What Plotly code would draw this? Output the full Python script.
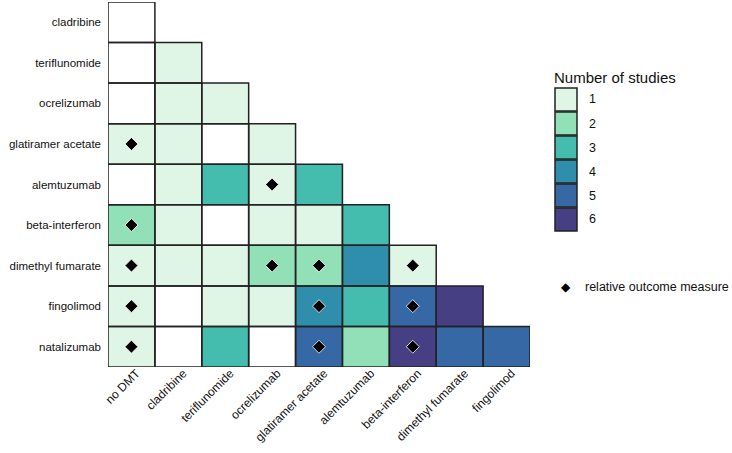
import plotly.graph_objects as go

row_labels = ["cladribine", "teriflunomide", "ocrelizumab", "glatiramer acetate", "alemtuzumab",
              "beta-interferon", "dimethyl fumarate", "fingolimod", "natalizumab"]
col_labels = ["no DMT", "cladribine", "teriflunomide", "ocrelizumab", "glatiramer acetate",
              "alemtuzumab", "beta-interferon", "dimethyl fumarate", "fingolimod"]

# number of studies per comparison (lower triangle)
studies = [
    [0],
    [0, 1],
    [0, 1, 1],
    [1, 1, 0, 1],
    [0, 1, 3, 1, 3],
    [2, 1, 0, 1, 1, 3],
    [1, 1, 1, 2, 2, 4, 1],
    [1, 0, 1, 1, 4, 3, 5, 6],
    [1, 0, 3, 0, 5, 2, 6, 5, 5],
]
# relative outcome measure markers (1 = present)
relative = [
    [0],
    [0, 0],
    [0, 0, 0],
    [1, 0, 0, 0],
    [0, 0, 0, 1, 0],
    [1, 0, 0, 0, 0, 0],
    [1, 0, 0, 1, 1, 0, 1],
    [1, 0, 0, 0, 1, 0, 1, 0],
    [1, 0, 0, 0, 1, 0, 1, 0, 0],
]

palette = ["#ffffff", "#dff5e5", "#92e0b8", "#45bdae", "#2f8eab", "#3568a4", "#473f84"]
legend_levels = [1, 2, 3, 4, 5, 6]

n = len(row_labels)
z = [[(studies[i][j] if j < len(studies[i]) else None) for j in range(n)] for i in range(n)]

k = len(palette)
colorscale = []
for idx, c in enumerate(palette):
    colorscale.append([idx / k, c])
    colorscale.append([(idx + 1) / k, c])

fig = go.Figure()
fig.add_trace(go.Heatmap(
    z=z, x=list(range(n)), y=list(range(n)),
    colorscale=colorscale, zmin=-0.5, zmax=k - 0.5,
    showscale=False, hoverongaps=False,
))

# cell borders
for i, row in enumerate(studies):
    for j, v in enumerate(row):
        fig.add_shape(type="rect", x0=j - 0.5, x1=j + 0.5, y0=i - 0.5, y1=i + 0.5,
                      xref="x", yref="y", line=dict(color="#222222", width=1.5),
                      fillcolor="rgba(0,0,0,0)", layer="above")

dx, dy = [], []
for i, row in enumerate(relative):
    for j, v in enumerate(row):
        if v:
            dx.append(j)
            dy.append(i)
fig.add_trace(go.Scatter(x=dx, y=dy, mode="markers",
                         marker=dict(symbol="diamond", size=10, color="black",
                                     line=dict(color="white", width=0.8)),
                         showlegend=False, hoverinfo="skip"))

L, R, T, B = 108, 202, 2, 86
W, H = 732, 453
pw, ph = W - L - R, H - T - B

def px(x):
    return (x - L) / pw

def py(y):
    return (H - B - y) / ph

# legend (manual)
fig.add_annotation(text="Number of studies", x=px(552), y=py(77), xref="paper", yref="paper",
                   xanchor="left", yanchor="middle", showarrow=False,
                   font=dict(size=15, color="#111111"))
for idx, lvl in enumerate(legend_levels):
    top = 88 + 24 * idx
    fig.add_shape(type="rect", xref="paper", yref="paper",
                  x0=px(555), x1=px(577), y0=py(top + 23), y1=py(top),
                  fillcolor=palette[lvl], line=dict(color="#222222", width=1.5))
    fig.add_annotation(text=str(lvl), x=px(587), y=py(top + 11.5), xref="paper", yref="paper",
                       xanchor="left", yanchor="middle", showarrow=False,
                       font=dict(size=12.5, color="#111111"))
fig.add_annotation(text="◆", x=px(566), y=py(287), xref="paper", yref="paper",
                   xanchor="center", yanchor="middle", showarrow=False,
                   font=dict(size=12, color="black"))
fig.add_annotation(text="relative outcome measure", x=px(583), y=py(287), xref="paper", yref="paper",
                   xanchor="left", yanchor="middle", showarrow=False,
                   font=dict(size=12.5, color="#111111"))

fig.update_layout(
    width=W, height=H,
    margin=dict(l=L, r=R, t=T, b=B, autoexpand=False),
    paper_bgcolor="white", plot_bgcolor="white",
    font=dict(family="Liberation Sans, Arial, sans-serif", size=11.5, color="#111111"),
    xaxis=dict(range=[-0.5, n - 0.5], tickvals=list(range(n)), ticktext=col_labels,
               tickangle=-45, showgrid=False, zeroline=False, showline=False, ticks="",
               ticklen=0, fixedrange=True, automargin=False, tickfont=dict(size=12),
               ticklabelshift=5, ticklabelstandoff=-4),
    yaxis=dict(range=[n - 0.5, -0.5], tickvals=list(range(n)), ticktext=row_labels,
               showgrid=False, zeroline=False, showline=False, ticks="", ticklen=0,
               fixedrange=True, automargin=False, ticklabelstandoff=6),
)

fig.write_html("out.html", config={"displayModeBar": False},
               post_script="document.body.style.margin='0';")
